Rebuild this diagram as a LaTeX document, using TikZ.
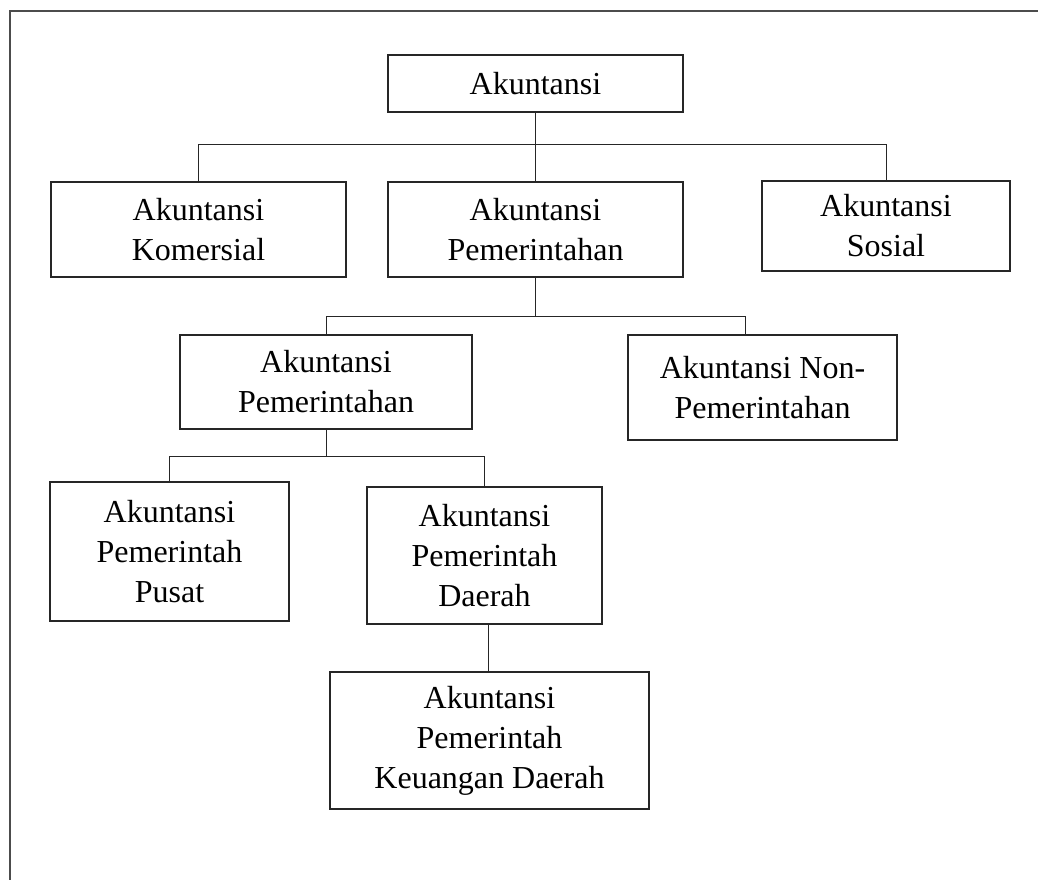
\documentclass[tikz,border=0pt]{standalone}
\usepackage{fontspec}
\setmainfont{Liberation Serif}
\usetikzlibrary{calc}
\begin{document}
\begin{tikzpicture}[x=0.75pt,y=-0.75pt,
  box/.style={draw=black!85,line width=0.9pt,align=center,inner sep=0pt,
    font=\fontsize{24}{30}\selectfont},
  sz/.style 2 args={minimum width=0.75*#1pt,minimum height=0.75*#2pt},
  link/.style={draw=black!85,line width=0.7pt},
  frame/.style={draw=black!70,line width=1.4pt}]
\useasboundingbox (0,0) rectangle (1038,880);
% open frame along the top and left edges
\draw[frame] (10,880) -- (10,11) -- (1038,11);

\node[box,sz={295}{57}] (top) at (535.5,83.5) {Akuntansi};
\node[box,sz={295}{95}] (kom) at (198.5,229.5) {Akuntansi\\Komersial};
\node[box,sz={295}{95}] (pem) at (535.5,229.5) {Akuntansi\\Pemerintahan};
\node[box,sz={248}{90}] (sos) at (886,226) {Akuntansi\\Sosial};
\node[box,sz={292}{94}] (pem2) at (326,382) {Akuntansi\\Pemerintahan};
\node[box,sz={269}{105}] (non) at (762.5,387.5) {Akuntansi Non-\\Pemerintahan};
\node[box,sz={239}{139}] (pus) at (169.5,551.5) {Akuntansi\\Pemerintah\\Pusat};
\node[box,sz={235}{137}] (dae) at (484.5,555.5) {Akuntansi\\Pemerintah\\Daerah};
\node[box,sz={319}{137}] (keu) at (489.5,740.5) {Akuntansi\\Pemerintah\\Keuangan Daerah};

% level 1 branches
\draw[link] (top.south) -- ++(0,32) coordinate (j1);
\draw[link] (j1) -| (kom.north);
\draw[link] (j1) -| (sos.north);
\draw[link] (j1) -- (pem.north);
% level 2 branches
\draw[link] (pem.south) -- ++(0,39) coordinate (j2);
\draw[link] (j2) -| (pem2.north);
\draw[link] (j2) -| ($(non.north)+(-17,0)$);
% level 3 branches
\draw[link] (pem2.south) -- ++(0,27) coordinate (j3);
\draw[link] (j3) -| (pus.north);
\draw[link] (j3) -| (dae.north);
% level 4
\draw[link] ($(keu.north |- dae.south)+(-1,0)$) -- ($(keu.north)+(-1,0)$);
\end{tikzpicture}
\end{document}
